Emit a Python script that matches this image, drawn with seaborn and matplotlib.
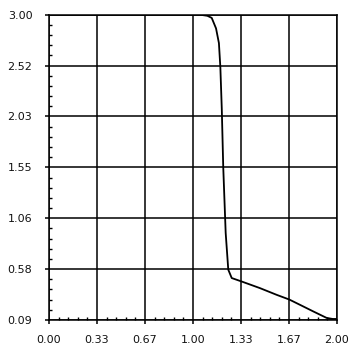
# step response style curve on a fixed grid

import numpy as np
import pandas as pd
import matplotlib
matplotlib.use('Agg')
import matplotlib.pyplot as plt
import seaborn as sns
from matplotlib.ticker import AutoMinorLocator

# values
x_vals = [0.00, 0.50, 1.00, 1.05, 1.10, 1.13, 1.16, 1.18, 1.19, 1.20, 1.21,
          1.227, 1.245, 1.269, 1.338, 1.465, 1.581, 1.669, 1.75, 1.835,
          1.928, 1.97, 2.00]
y_vals = [3.00, 3.00, 3.00, 3.00, 2.99, 2.97, 2.87, 2.73, 2.50, 2.10, 1.55,
          0.92, 0.57, 0.49, 0.457, 0.394, 0.33, 0.285, 0.23, 0.172,
          0.11, 0.10, 0.10]

xticks = [0.0, 1/3, 2/3, 1.0, 4/3, 5/3, 2.0]
xticklabels = ['0.00', '0.33', '0.67', '1.00', '1.33', '1.67', '2.00']
yticks = [0.09, 0.575, 1.06, 1.545, 2.03, 2.515, 3.00]
yticklabels = ['0.09', '0.58', '1.06', '1.55', '2.03', '2.52', '3.00']

df = pd.DataFrame({'x': x_vals, 'y': y_vals})

sns.set_style('white')
plt.rcParams['font.family'] = ['DejaVu Sans']

fig = plt.figure(figsize=(3.61, 3.51), dpi=100)
ax = fig.add_axes([0.1357, 0.0883, 0.7978, 0.8697])

sns.lineplot(data=df, x='x', y='y', sort=False, color='black', linewidth=1.3, ax=ax)

ax.set_xlim(0, 2.0)
ax.set_ylim(0.09, 3.00)
ax.set_xticks(xticks)
ax.set_xticklabels(xticklabels)
ax.set_yticks(yticks)
ax.set_yticklabels(yticklabels)
ax.xaxis.set_minor_locator(AutoMinorLocator(5))
ax.yaxis.set_minor_locator(AutoMinorLocator(5))

ax.grid(True, which='major', color='black', linewidth=1.1)
ax.tick_params(which='both', bottom=True, left=True, top=False, right=False)
ax.tick_params(which='major', direction='out', length=3, width=1.1, color='black',
               labelsize=8, labelcolor='#111111')
ax.tick_params(which='minor', direction='in', length=2.5, width=1.0, color='black')
ax.tick_params(axis='y', which='major', pad=9)
ax.tick_params(axis='x', which='major', pad=8)

for s in ax.spines.values():
    s.set_color('black')
    s.set_linewidth(1.1)

ax.set_xlabel('')
ax.set_ylabel('')

plt.savefig('out.png', dpi=100)
